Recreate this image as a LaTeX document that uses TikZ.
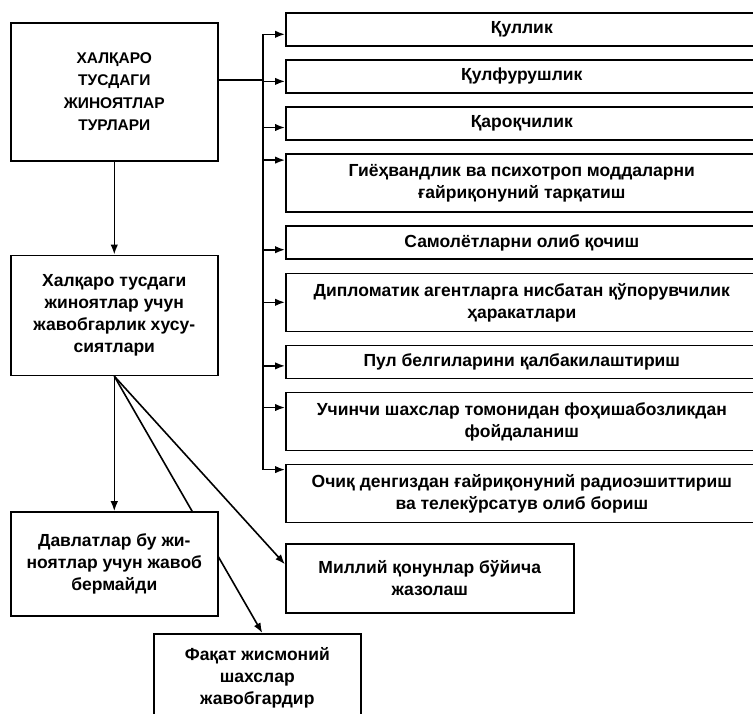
\documentclass[tikz,border=0pt]{standalone}
\usepackage{fontspec}
\setmainfont{Liberation Sans}
\usetikzlibrary{positioning, arrows.meta, backgrounds}

\begin{document}
\begin{tikzpicture}[
    x=1pt, y=-1pt,
    node distance=12.5pt,
    >={Latex[length=10pt,width=7.5pt]},
    line width=1.6pt,
    box/.style={draw, rectangle, fill=white, align=center, inner sep=4pt,
      font=\bfseries\fontsize{17.5}{22}\selectfont},
    side/.style={box, minimum width=207pt},
    kind/.style={box, minimum width=472pt, minimum height=33pt, anchor=north west},
    kind2/.style={kind, minimum height=58pt}
  ]
  \useasboundingbox (0,0) rectangle (753,713);

  % left column
  \node[side, minimum height=138pt, anchor=north west,
    font=\bfseries\fontsize{15.5}{22.5}\selectfont] (top) at (10,22)
    {ХАЛҚАРО\\ТУСДАГИ\\ЖИНОЯТЛАР\\ТУРЛАРИ};
  \node[side, minimum height=120pt, below=93pt of top] (feat)
    {Халқаро тусдаги\\жиноятлар учун\\жавобгарлик хусу-\\сиятлари};
  \node[side, minimum height=104pt, below=135pt of feat] (states)
    {Давлатлар бу жи-\\ноятлар учун жавоб\\бермайди};
  \node[side, minimum height=88pt, anchor=north west] (persons) at (153,633)
    {Фақат жисмоний\\шахслар\\жавобгардир};
  \node[box, minimum width=288pt, minimum height=69pt, anchor=north west] (laws) at (285,543)
    {Миллий қонунлар бўйича\\жазолаш};

  % right column
  \node[kind]               (k1) at (285,12) {Қуллик};
  \node[kind, below=of k1]  (k2) {Қулфурушлик};
  \node[kind, below=of k2]  (k3) {Қароқчилик};
  \node[kind2, below=of k3] (k4) {Гиёҳвандлик ва психотроп моддаларни\\ғайриқонуний тарқатиш};
  \node[kind, below=of k4]  (k5) {Самолётларни олиб қочиш};
  \node[kind2, below=of k5] (k6) {Дипломатик агентларга нисбатан қўпорувчилик\\ҳаракатлари};
  \node[kind, below=of k6]  (k7) {Пул белгиларини қалбакилаштириш};
  \node[kind2, below=of k7] (k8) {Учинчи шахслар томонидан фоҳишабозликдан\\фойдаланиш};
  \node[kind2, below=of k8] (k9) {Очиқ денгиздан ғайриқонуний радиоэшиттириш\\ва телекўрсатув олиб бориш};

  % bus to the kinds of crimes
  \coordinate[left=22pt of k1.west] (bus);
  \foreach \k/\dy in {k1/-5,k2/-5,k3/-4,k4/23,k5/-7,k6/0,k7/-4,k8/14,k9/24}
    \coordinate (a\k) at ([yshift=\dy pt]\k.west);
  \draw ([yshift=12pt]top.east) -- ([yshift=12pt]top.east -| bus);
  \draw (ak1 -| bus) -- (ak9 -| bus);
  \foreach \k in {k1,k2,k3,k4,k5,k6,k7,k8,k9}
    \draw[->] (a\k -| bus) -- (a\k);

  % features of responsibility
  \draw[->] (top) -- (feat);
  \draw[->] (feat.south) -- (states);
  \draw[->] (feat.south) -- ([yshift=14pt]laws.west);
  \begin{scope}[on background layer]
    \draw[->, line width=1.6pt] (feat.south) -- ([xshift=5pt]persons.north);
  \end{scope}

\end{tikzpicture}
\end{document}
